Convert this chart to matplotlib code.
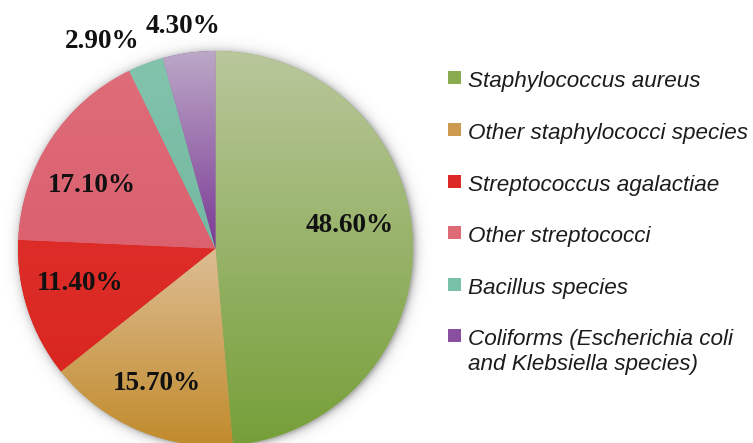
import numpy as np
import matplotlib
matplotlib.use("Agg")
import matplotlib.pyplot as plt
from matplotlib.colors import to_rgb
from matplotlib.patches import Rectangle

# ---- data -------------------------------------------------------------
categories = [
    "Staphylococcus aureus",
    "Other staphylococci species",
    "Streptococcus agalactiae",
    "Other streptococci",
    "Bacillus species",
    "Coliforms (Escherichia coli\nand Klebsiella species)",
]
shares = [48.6, 15.7, 11.4, 17.1, 2.9, 4.3]

# ---- styling ----------------------------------------------------------
grad_top = ["#b9c79b", "#ddbd94", "#de2d28", "#df6c79", "#82c3ac", "#bca8c7"]
grad_bottom = ["#769f38", "#c18b2b", "#d92621", "#db616f", "#73b9a1", "#7a3995"]
legend_colors = ["#8bab4f", "#cc9b4f", "#dc2926", "#de6a78", "#79c0a8", "#8a4fa1"]

W, H = 753, 443
cx, cy, R = 215.5, 443 - 248.5, 197.5

# value label anchor points (x centre, baseline) in pixel units from top-left
label_pos = [(350, 232), (157, 390), (80, 290), (92, 192), (102, 48), (183, 33)]
legend_baselines = [87, 139, 191, 242, 294, 345]
legend_line_gap = 25

fig = plt.figure(figsize=(W / 100, H / 100), dpi=100)
ax = fig.add_axes([0, 0, 1, 1])

# soft halo around the pie
gx = np.linspace(-20, 460, 480)
gy = np.linspace(-20, 470, 490)
X, Y = np.meshgrid(gx, gy)
d = np.hypot(X - (cx + 1.5), Y - (cy - 1.0))
alpha = np.clip(0.45 * np.exp(-(d - R) / 4.0), 0, 0.45)
halo = np.zeros(X.shape + (4,))
halo[..., :3] = 0.35
halo[..., 3] = alpha
ax.imshow(halo, extent=(gx[0], gx[-1], gy[0], gy[-1]), origin="lower",
          aspect="auto", interpolation="bilinear", zorder=0)

wedges, _ = ax.pie(shares, startangle=90, counterclock=False, radius=R,
                   center=(cx, cy), colors=legend_colors,
                   wedgeprops=dict(linewidth=0))

# vertical gradient fill inside each wedge
for w, ct, cb in zip(wedges, grad_top, grad_bottom):
    w.set_zorder(1)
    t = np.radians(np.linspace(w.theta1, w.theta2, 300))
    xs = np.concatenate([[cx], cx + R * np.cos(t)])
    ys = np.concatenate([[cy], cy + R * np.sin(t)])
    x0, x1, y0, y1 = xs.min(), xs.max(), ys.min(), ys.max()
    n = 256
    f = np.linspace(0, 1, n)[:, None]
    col = (1 - f) * np.array(to_rgb(cb)) + f * np.array(to_rgb(ct))
    img = np.ones((n, 2, 4))
    img[..., :3] = col[:, None, :]
    im = ax.imshow(img, extent=(x0, x1, y0, y1), origin="lower",
                   aspect="auto", interpolation="bilinear", zorder=2)
    im.set_clip_path(w)

# percentage labels
for v, (px, pb) in zip(shares, label_pos):
    ax.text(px, H - pb, f"{v:.2f}%", ha="center", va="baseline",
            fontsize=19.6, fontweight="bold", family="Liberation Serif",
            color="#111111", zorder=5)

# legend
for name, col, base in zip(categories, legend_colors, legend_baselines):
    ax.add_patch(Rectangle((448, H - (base - 10) - 6.5), 13, 13,
                           facecolor=col, edgecolor="none", zorder=5))
    for k, line in enumerate(name.split("\n")):
        ax.text(468, H - (base + k * legend_line_gap), line, ha="left",
                va="baseline", fontsize=16.2, style="italic",
                family="Liberation Sans", color="#1c1c1c", zorder=5)

ax.set_xlim(0, W)
ax.set_ylim(0, H)
ax.set_aspect("auto")
ax.axis("off")
fig.savefig("out.png", dpi=100)
